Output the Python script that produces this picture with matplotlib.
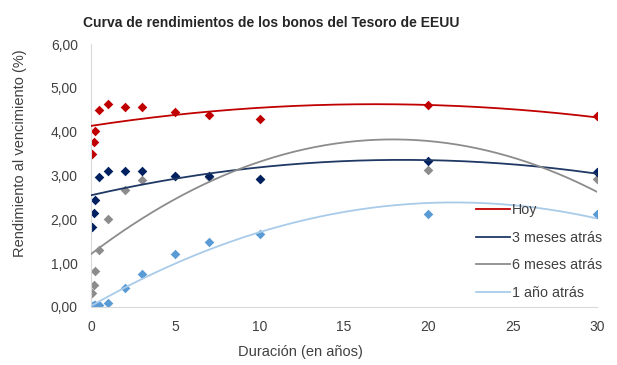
import numpy as np
import matplotlib
matplotlib.use("Agg")
import matplotlib.pyplot as plt
from matplotlib.ticker import FuncFormatter

plt.rcParams['font.family'] = ['Liberation Sans', 'DejaVu Sans']

# maturities in years: 1m, 2m, 3m, 6m, 1y, 2y, 3y, 5y, 7y, 10y, 20y, 30y
plazos = [1/12, 2/12, 3/12, 0.5, 1, 2, 3, 5, 7, 10, 20, 30]

hoy = [3.49, 3.77, 4.02, 4.50, 4.63, 4.57, 4.57, 4.44, 4.38, 4.30, 4.61, 4.35]
tres_meses = [1.82, 2.15, 2.44, 2.96, 3.10, 3.10, 3.10, 3.00, 2.98, 2.92, 3.32, 3.08]
seis_meses = [0.31, 0.50, 0.81, 1.30, 2.01, 2.67, 2.90, 2.99, 2.97, 2.91, 3.13, 2.93]
un_anio = [0.03, 0.04, 0.04, 0.04, 0.08, 0.44, 0.75, 1.20, 1.49, 1.67, 2.12, 2.12]

series = [
    ("Hoy", hoy, "#C00000", "#C00000"),
    ("3 meses atrás", tres_meses, "#1F3864", "#002060"),
    ("6 meses atrás", seis_meses, "#8C8C8C", "#8C8C8C"),
    ("1 año atrás", un_anio, "#A9CBEA", "#5B9BD5"),
]

fig = plt.figure(figsize=(6.17, 3.65), dpi=100)
ax = fig.add_axes([91/617, 1 - 307/365, (597 - 91)/617, (307 - 44)/365])

# second order trend lines, like the spreadsheet ones
xs = np.linspace(0, 30, 200)
lines = []
for nombre, vals, c_line, c_mark in series:
    coef = np.polyfit(plazos, vals, 2)
    ln, = ax.plot(xs, np.polyval(coef, xs), color=c_line, lw=1.3, label=nombre, zorder=3)
    lines.append(ln)
for nombre, vals, c_line, c_mark in [series[2], series[3], series[1], series[0]]:
    ax.scatter(plazos, vals, marker="D", s=24, color=c_mark, zorder=2, linewidths=0)

ax.set_xlim(0, 30)
ax.set_ylim(0, 6)
ax.set_xticks(range(0, 31, 5))
ax.set_yticks(range(0, 7))
ax.yaxis.set_major_formatter(FuncFormatter(lambda v, p: "{:.2f}".format(v).replace(".", ",")))
ax.tick_params(length=0, labelsize=10, labelcolor="#404040", pad=9.5)
for s in ["top", "right"]:
    ax.spines[s].set_visible(False)
for s in ["left", "bottom"]:
    ax.spines[s].set_color("#D9D9D9")

fig.text(271/617, 1 - 23/365, "Curva de rendimientos de los bonos del Tesoro de EEUU",
         ha="center", va="center", fontsize=10, fontweight="bold", color="#262626")
fig.text(20/617, 1 - 153/365, "Rendimiento al vencimiento (%)", rotation=90,
         ha="center", va="center", fontsize=10.5, color="#404040")
fig.text(300/617, 1 - 352/365, "Duración (en años)", ha="center", va="center",
         fontsize=10.5, color="#404040")

fig.legend(handles=lines, loc="upper left", bbox_to_anchor=(476/617, 1 - 203/365),
           frameon=False, fontsize=10.3, handlelength=2.4, handletextpad=0.1,
           labelspacing=0.95, borderpad=0, borderaxespad=0, labelcolor="#404040")

fig.savefig("out.png", dpi=100)
